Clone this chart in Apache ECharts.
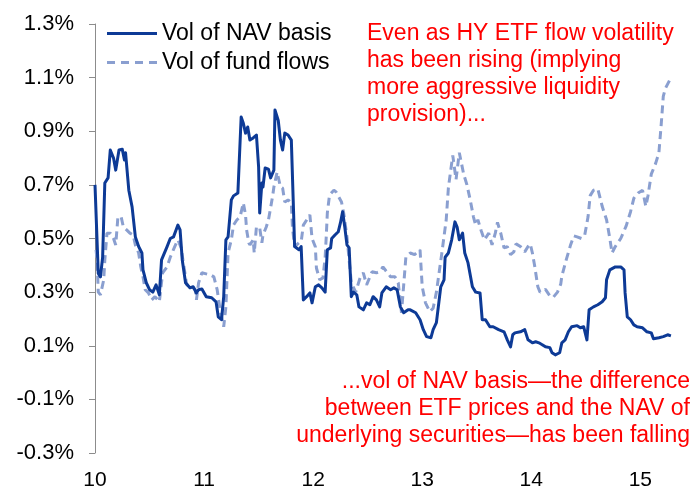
<!DOCTYPE html>
<html>
<head>
<meta charset="utf-8">
<script src="https://cdn.jsdelivr.net/npm/echarts@6/dist/echarts.min.js"></script>
<style>
  html, body { margin: 0; padding: 0; background: #fff; }
  #content { width: 691px; height: 486px; }
</style>
</head>
<body>
<div id="content"></div>
<script>
// time axis in fractional years (10 = 2010), values in %
var navYears = [10.00,10.03,10.05,10.07,10.09,10.12,10.14,10.17,10.19,10.22,10.25,10.27,10.28,10.31,10.34,10.37,10.40,10.43,10.44,10.47,
  10.50,10.53,10.56,10.59,10.61,10.66,10.69,10.72,10.76,10.78,10.80,10.83,10.87,10.90,10.93,10.95,10.98,11.02,11.07,11.11,
  11.13,11.16,11.18,11.20,11.22,11.25,11.27,11.31,11.34,11.36,11.38,11.40,11.42,11.45,11.48,11.50,11.51,11.53,11.54,11.56,
  11.59,11.61,11.64,11.65,11.68,11.70,11.72,11.74,11.77,11.80,11.82,11.83,11.87,11.89,11.91,11.94,11.97,11.99,12.02,12.05,
  12.08,12.11,12.13,12.16,12.17,12.20,12.23,12.25,12.27,12.29,12.31,12.33,12.35,12.37,12.40,12.42,12.46,12.49,12.52,12.55,
  12.58,12.61,12.63,12.67,12.71,12.74,12.77,12.80,12.83,12.87,12.89,12.94,12.98,13.01,13.04,13.08,13.10,13.13,13.17,13.20,
  13.21,13.24,13.27,13.30,13.32,13.34,13.37,13.39,13.42,13.46,13.49,13.53,13.55,13.58,13.62,13.65,13.70,13.75,13.78,13.81,
  13.83,13.85,13.90,13.94,13.97,14.01,14.04,14.07,14.10,14.13,14.17,14.19,14.22,14.26,14.28,14.31,14.34,14.37,14.42,14.45,
  14.48,14.51,14.53,14.57,14.61,14.65,14.68,14.69,14.72,14.77,14.82,14.85,14.86,14.88,14.91,14.94,14.97,15.02,15.06,15.10,
  15.12,15.17,15.21,15.25,15.28];
var navValues = [0.70,0.37,0.357,0.43,0.707,0.726,0.83,0.80,0.755,0.83,0.833,0.793,0.82,0.68,0.618,0.506,0.47,0.446,0.383,0.335,
  0.309,0.30,0.327,0.29,0.42,0.469,0.50,0.506,0.55,0.532,0.42,0.335,0.316,0.32,0.297,0.309,0.312,0.283,0.279,0.264,
  0.208,0.197,0.283,0.495,0.506,0.644,0.659,0.67,0.953,0.93,0.893,0.916,0.867,0.875,0.886,0.767,0.595,0.707,0.692,0.763,
  0.759,0.726,0.755,0.979,0.94,0.867,0.83,0.893,0.886,0.867,0.606,0.47,0.458,0.47,0.271,0.283,0.297,0.26,0.32,0.327,
  0.316,0.30,0.458,0.465,0.50,0.513,0.525,0.558,0.60,0.543,0.476,0.465,0.283,0.30,0.29,0.245,0.234,0.26,0.253,0.283,
  0.271,0.245,0.297,0.32,0.309,0.316,0.309,0.245,0.223,0.234,0.234,0.223,0.197,0.16,0.134,0.13,0.16,0.186,0.32,0.346,
  0.43,0.446,0.495,0.562,0.543,0.495,0.52,0.446,0.409,0.32,0.30,0.297,0.197,0.197,0.171,0.171,0.16,0.152,0.122,0.096,
  0.141,0.148,0.152,0.16,0.122,0.111,0.115,0.111,0.104,0.096,0.093,0.074,0.066,0.074,0.111,0.122,0.152,0.171,0.175,0.167,
  0.171,0.122,0.234,0.245,0.253,0.264,0.279,0.346,0.383,0.394,0.394,0.383,0.297,0.208,0.197,0.178,0.171,0.167,0.152,0.148,
  0.126,0.13,0.134,0.141,0.137];

var flowYears = [10.01,10.02,10.03,10.05,10.08,10.09,10.11,10.14,10.17,10.19,10.21,10.24,10.26,10.29,10.32,10.35,10.37,10.40,10.42,10.44,
  10.46,10.49,10.52,10.55,10.59,10.62,10.66,10.69,10.73,10.76,10.79,10.81,10.83,10.84,10.87,10.92,10.93,10.95,10.98,11.02,
  11.06,11.09,11.12,11.15,11.18,11.20,11.21,11.22,11.25,11.27,11.30,11.33,11.36,11.38,11.39,11.41,11.42,11.45,11.46,11.48,
  11.51,11.53,11.54,11.57,11.59,11.61,11.63,11.64,11.67,11.70,11.72,11.74,11.77,11.80,11.81,11.83,11.87,11.89,11.91,11.97,
  11.99,12.02,12.03,12.06,12.09,12.11,12.12,12.13,12.15,12.19,12.21,12.26,12.28,12.31,12.33,12.35,12.39,12.43,12.46,12.49,
  12.54,12.58,12.61,12.64,12.71,12.75,12.78,12.81,12.85,12.89,12.93,12.98,13.00,13.03,13.07,13.10,13.13,13.18,13.22,13.24,
  13.28,13.31,13.34,13.38,13.41,13.44,13.47,13.49,13.51,13.54,13.57,13.61,13.64,13.67,13.69,13.72,13.75,13.78,13.81,13.84,
  13.86,13.90,13.94,13.97,13.99,14.01,14.03,14.06,14.08,14.13,14.17,14.20,14.24,14.27,14.28,14.32,14.36,14.39,14.42,14.46,
  14.49,14.52,14.54,14.57,14.61,14.65,14.69,14.72,14.74,14.77,14.82,14.87,14.91,14.94,14.98,15.02,15.05,15.07,15.10,15.14,
  15.17,15.19,15.21,15.23,15.28];
var flowValues = [0.458,0.41,0.30,0.29,0.346,0.42,0.52,0.52,0.50,0.476,0.58,0.58,0.543,0.532,0.52,0.513,0.476,0.446,0.394,0.357,
  0.309,0.297,0.271,0.283,0.264,0.372,0.394,0.43,0.469,0.495,0.465,0.409,0.357,0.327,0.327,0.309,0.271,0.335,0.372,0.368,
  0.364,0.357,0.309,0.227,0.171,0.245,0.346,0.446,0.495,0.55,0.569,0.58,0.633,0.588,0.532,0.484,0.476,0.495,0.446,0.543,
  0.54,0.484,0.513,0.543,0.569,0.614,0.662,0.692,0.748,0.692,0.688,0.636,0.644,0.633,0.543,0.469,0.484,0.487,0.55,0.588,
  0.50,0.469,0.39,0.346,0.353,0.43,0.506,0.595,0.662,0.68,0.674,0.636,0.595,0.506,0.42,0.335,0.30,0.353,0.372,0.327,
  0.376,0.372,0.376,0.394,0.357,0.357,0.335,0.223,0.43,0.446,0.44,0.458,0.32,0.26,0.227,0.24,0.30,0.446,0.57,0.69,
  0.81,0.72,0.82,0.74,0.70,0.644,0.58,0.55,0.57,0.53,0.495,0.52,0.476,0.52,0.56,0.52,0.465,0.47,0.44,0.45,
  0.48,0.47,0.45,0.47,0.48,0.446,0.40,0.32,0.30,0.31,0.286,0.28,0.30,0.33,0.36,0.42,0.476,0.51,0.506,0.50,
  0.513,0.58,0.66,0.68,0.685,0.62,0.57,0.50,0.446,0.47,0.50,0.547,0.60,0.65,0.67,0.68,0.62,0.66,0.74,0.78,
  0.82,0.92,1.03,1.06,1.10];

var yTickLabels = ['-0.3%','-0.1%','0.1%','0.3%','0.5%','0.7%','0.9%','1.1%','1.3%'];
var xTickLabels = ['10','11','12','13','14','15'];

// axis runs from -0.3 in steps of 0.2; shift so the scale starts at 0
var Y_SHIFT = 0.3;
var FONT = '"Liberation Sans", Arial, sans-serif';
var NAV_COLOR = '#0d3a96';
var FLOW_COLOR = '#8a9fd0';

function pairs(ts, vs) {
    return ts.map(function (t, i) { return [t, +(vs[i] + Y_SHIFT).toFixed(4)]; });
}

var myChart = echarts.init(document.getElementById('content'));
myChart.setOption({
    animation: false,
    textStyle: { fontFamily: FONT },
    grid: { left: 95, right: 7, top: 24, bottom: 33, outerBoundsMode: 'none' },
    legend: {
        orient: 'vertical',
        left: 107,
        top: 22,
        padding: 0,
        itemGap: 6,
        itemWidth: 50,
        itemHeight: 3,
        textStyle: { fontSize: 23, color: '#000', fontFamily: FONT },
        data: [
            { name: 'Vol of NAV basis', icon: 'rect' },
            { name: 'Vol of fund flows', icon: 'path://M0,0h8v3h-8z M14,0h8v3h-8z M28,0h8v3h-8z M42,0h8v3h-8z' }
        ]
    },
    xAxis: {
        type: 'value',
        min: 10,
        max: 15.4,
        interval: 1,
        axisLine: { show: false },
        axisTick: { show: false },
        splitLine: { show: false },
        axisLabel: {
            fontSize: 21,
            color: '#000',
            margin: 17,
            showMaxLabel: false,
            formatter: function (v) { return xTickLabels[Math.round(v - 10)] || ''; }
        }
    },
    yAxis: {
        type: 'value',
        min: 0,
        max: 1.6,
        interval: 0.2,
        axisLine: { show: true, lineStyle: { color: '#8c8c8c', width: 1 } },
        axisTick: { show: true, length: 6, lineStyle: { color: '#8c8c8c' } },
        splitLine: { show: false },
        axisLabel: {
            fontSize: 22,
            color: '#000',
            margin: 21,
            formatter: function (v) { return yTickLabels[Math.round(v / 0.2)] || ''; }
        }
    },
    series: [
        {
            name: 'Vol of NAV basis',
            type: 'line',
            symbol: 'none',
            z: 3,
            lineStyle: { color: NAV_COLOR, width: 3, join: 'round' },
            itemStyle: { color: NAV_COLOR },
            data: pairs(navYears, navValues)
        },
        {
            name: 'Vol of fund flows',
            type: 'line',
            symbol: 'none',
            z: 2,
            lineStyle: { color: FLOW_COLOR, width: 3, type: [8, 5] },
            itemStyle: { color: FLOW_COLOR },
            data: pairs(flowYears, flowValues)
        }
    ],
    graphic: [
        {
            type: 'text',
            left: 367,
            top: 20,
            style: {
                text: 'Even as HY ETF flow volatility\nhas been rising (implying\nmore aggressive liquidity\nprovision)...',
                font: '23px ' + FONT,
                fill: '#ff0000',
                lineHeight: 27
            }
        },
        {
            type: 'text',
            right: 1,
            top: 368,
            style: {
                text: '...vol of NAV basis\u2014the difference\nbetween ETF prices and the NAV of\nunderlying securities\u2014has been falling',
                font: '23px ' + FONT,
                fill: '#ff0000',
                align: 'right',
                textAlign: 'right',
                lineHeight: 27
            }
        }
    ]
});
</script>
</body>
</html>
